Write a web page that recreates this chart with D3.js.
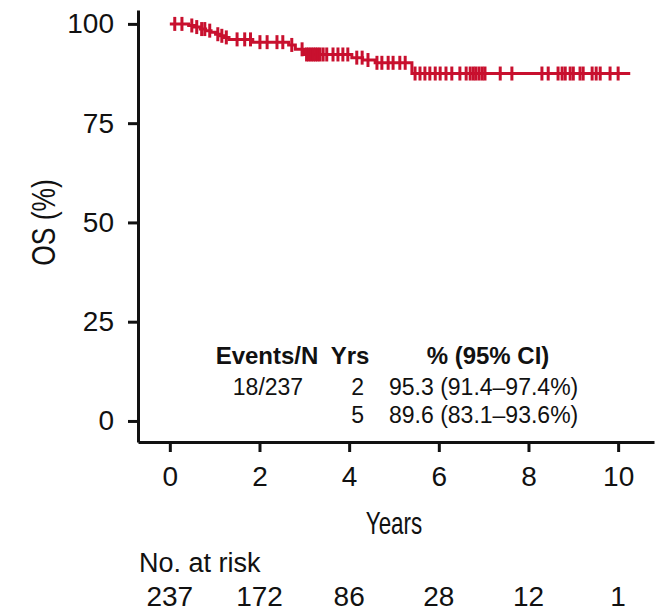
<!DOCTYPE html>
<html>
<head>
<meta charset="utf-8">
<script src="https://cdn.jsdelivr.net/npm/d3@7"></script>
<style>
  body { margin: 0; background: #fff; }
  svg { display: block; }
  text { font-family: "Liberation Sans", Arial, Helvetica, sans-serif; fill: #111; }
  .axis path, .axis line { stroke: #111; stroke-width: 3; }
</style>
</head>
<body>
<div id="chart"></div>
<script>
// Kaplan-Meier steps (years, OS %)
var stepTimes = [0, 0.42, 0.55, 0.68, 0.80, 0.92, 1.02, 1.12, 1.22, 1.32, 1.85, 2.65, 2.80, 3.00, 4.06, 4.30, 4.58, 5.40];
var stepSurv  = [100, 99.6, 99.2, 98.7, 98.3, 97.9, 97.4, 97.0, 96.6, 96.1, 95.4, 94.7, 93.6, 92.3, 91.5, 90.9, 90.2, 87.5];
var endTime = 10.27;

// censored observations (years)
var censorTimes = [
  0.11, 0.27, 0.49, 0.60, 0.71, 0.78, 0.89, 1.07, 1.16, 1.26,
  1.50, 1.67, 1.80, 2.01, 2.17, 2.39, 2.52, 2.72, 2.95,
  3.05, 3.10, 3.15, 3.20, 3.25, 3.30, 3.35, 3.42, 3.50,
  3.64, 3.75, 3.86, 3.97, 4.17, 4.29, 4.42, 4.62, 4.73, 4.87, 4.98, 5.13, 5.25,
  5.47, 5.58, 5.69, 5.80, 5.92, 6.03, 6.16, 6.29, 6.47, 6.61,
  6.70, 6.77, 6.83, 6.90, 6.97, 7.03, 7.37, 7.63,
  8.30, 8.44, 8.66, 8.75, 8.82, 8.93, 9.00, 9.15, 9.22,
  9.42, 9.51, 9.60, 9.82, 10.0
];

var xTicks = [0, 2, 4, 6, 8, 10];
var yTicks = [0, 25, 50, 75, 100];

var riskTimes = [0, 2, 4, 6, 8, 10];
var riskCounts = [237, 172, 86, 28, 12, 1];

var tableHeader = ["Events/N", "Yrs", "% (95% CI)"];
var tableEvents = ["18/237", ""];
var tableYears = ["2", "5"];
var tableEst = ["95.3 (91.4\u201397.4%)", "89.6 (83.1\u201393.6%)"];

var W = 661, H = 611;
var red = "#c8102e";

var svg = d3.select("#chart")
  .append("svg")
  .attr("width", W)
  .attr("height", H);

var x = d3.scaleLinear()
  .domain([-0.71, 10.8])
  .range([138, 654]);
var y = d3.scaleLinear()
  .domain([-5.3, 103.5])
  .range([442, 10]);

var xAxis = d3.axisBottom(x)
  .tickValues(xTicks)
  .tickSizeInner(10)
  .tickSizeOuter(0)
  .tickPadding(14);
var yAxis = d3.axisLeft(y)
  .tickValues(yTicks)
  .tickSizeInner(10)
  .tickSizeOuter(0)
  .tickPadding(14);

svg.append("g")
  .attr("class", "axis axis-x")
  .attr("transform", "translate(0," + 442 + ")")
  .call(xAxis)
  .selectAll("text")
  .style("font-size", "28px");

svg.append("g")
  .attr("class", "axis axis-y")
  .attr("transform", "translate(" + 138 + ",0)")
  .call(yAxis)
  .selectAll("text")
  .style("font-size", "28px");

svg.selectAll(".axis text").style("fill", "#111");

// axis titles, condensed
svg.append("text")
  .attr("transform", "translate(" + x(5) + ",534) scale(0.7,1)")
  .attr("text-anchor", "middle")
  .style("font-size", "32px")
  .text("Years");

svg.append("text")
  .attr("transform", "translate(55," + y(50) + ") rotate(-90) scale(0.8,1)")
  .attr("text-anchor", "middle")
  .style("font-size", "33px")
  .text("OS (%)");

// survival curve
var pts = stepTimes.map(function(t, i) { return [t, stepSurv[i]]; });
pts.push([endTime, stepSurv[stepSurv.length - 1]]);

var line = d3.line()
  .curve(d3.curveStepAfter)
  .x(function(d) { return x(d[0]); })
  .y(function(d) { return y(d[1]); });

svg.append("path")
  .datum(pts)
  .attr("fill", "none")
  .attr("stroke", red)
  .attr("stroke-width", 3)
  .attr("d", line);

function survAt(t) {
  var s = stepSurv[0];
  for (var i = 0; i < stepTimes.length; i++) {
    if (stepTimes[i] <= t) s = stepSurv[i];
  }
  return s;
}

svg.selectAll(".censor").data(censorTimes)
  .enter().append("line")
  .attr("class", "censor")
  .attr("x1", function(d) { return x(d); })
  .attr("x2", function(d) { return x(d); })
  .attr("y1", function(d) { return y(survAt(d)) - 7; })
  .attr("y2", function(d) { return y(survAt(d)) + 7; })
  .attr("stroke", red)
  .attr("stroke-width", 3);

// estimates table
var tbl = svg.append("g").style("font-size", "23px");
var colX = [267, 350, 488];
tbl.selectAll(".hdr").data(tableHeader)
  .enter().append("text")
  .attr("class", "hdr")
  .attr("x", function(d, i) { return colX[i]; })
  .attr("y", 364)
  .attr("text-anchor", "middle")
  .style("font-weight", "bold")
  .style("font-size", "24px")
  .text(function(d) { return d; });

var rowY = [395, 423];
tbl.selectAll(".ev").data(tableEvents)
  .enter().append("text")
  .attr("x", 268)
  .attr("y", function(d, i) { return rowY[i]; })
  .attr("text-anchor", "middle")
  .text(function(d) { return d; });
tbl.selectAll(".yr").data(tableYears)
  .enter().append("text")
  .attr("x", 364)
  .attr("y", function(d, i) { return rowY[i]; })
  .attr("text-anchor", "end")
  .text(function(d) { return d; });
tbl.selectAll(".est").data(tableEst)
  .enter().append("text")
  .attr("x", 389)
  .attr("y", function(d, i) { return rowY[i]; })
  .text(function(d) { return d; });

// number at risk
svg.append("text")
  .attr("x", 139)
  .attr("y", 572)
  .style("font-size", "27px")
  .text("No. at risk");

svg.selectAll(".risk").data(riskCounts)
  .enter().append("text")
  .attr("class", "risk")
  .attr("x", function(d, i) { return x(riskTimes[i]); })
  .attr("y", 606)
  .attr("text-anchor", "middle")
  .style("font-size", "28px")
  .text(function(d) { return d; });
</script>
</body>
</html>
